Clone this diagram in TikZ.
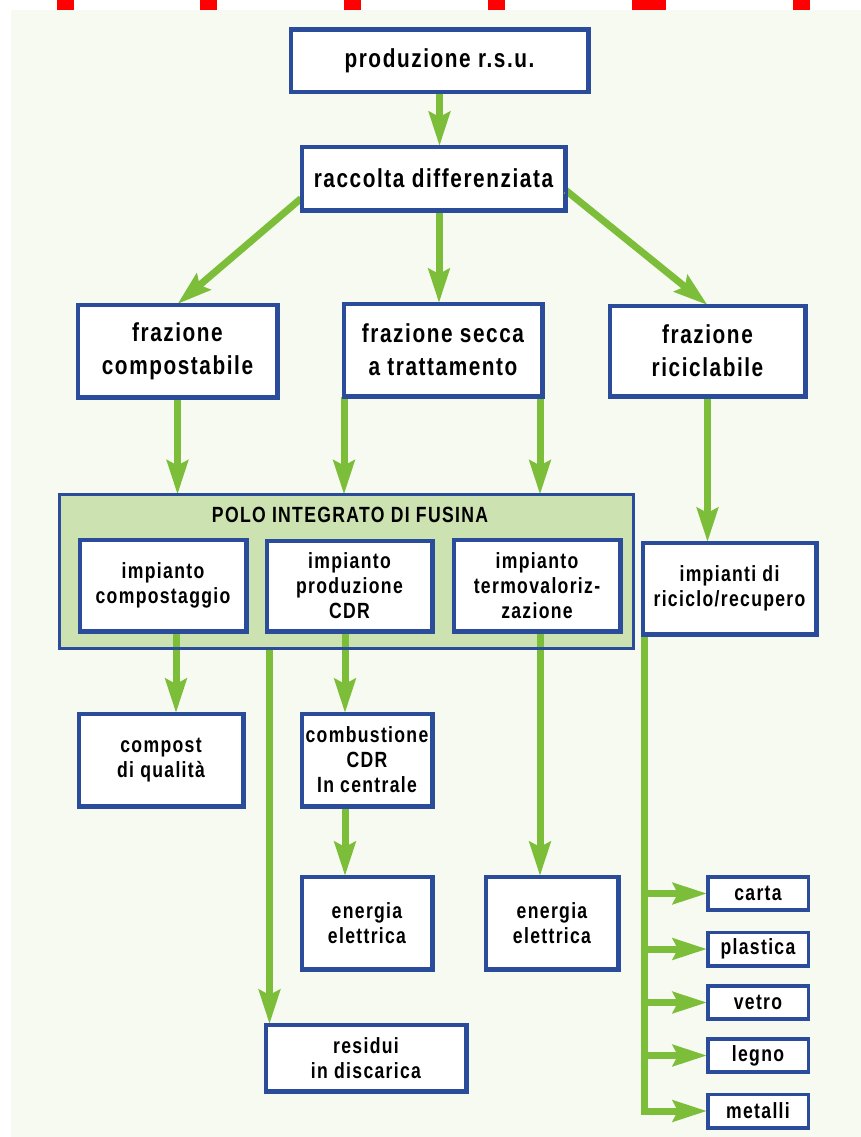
\documentclass[tikz,border=0pt]{standalone}
\usepackage{fontspec}
\setmainfont{Liberation Sans}[FakeStretch=0.8, LetterSpace=6]
\usetikzlibrary{arrows.meta,calc}
\definecolor{bblue}{RGB}{43,76,155}
\definecolor{agreen}{RGB}{124,189,58}
\definecolor{pgreen}{RGB}{204,226,176}
\definecolor{bgcol}{RGB}{247,250,240}
\definecolor{mred}{RGB}{255,0,0}
\begin{document}
\begin{tikzpicture}[x=1pt,y=-1pt,
  box/.style={draw=bblue, line width=3pt, fill=white, align=center, inner sep=0pt,
    font=\bfseries\fontsize{22}{25}\selectfont},
  bigbox/.style={box, font=\bfseries\fontsize{26}{33}\selectfont},
  smallbox/.style={box, line width=2.5pt, minimum width=99.5pt, minimum height=32pt},
  arr/.style={draw=agreen, line width=7pt, -{Stealth[length=34pt,width=21pt,inset=5pt]}},
  trunk/.style={draw=agreen, line width=7pt},
  title/.style={inner sep=0pt, font=\bfseries\fontsize{22}{25}\selectfont}]
\useasboundingbox (0,0) rectangle (861,1137);
\fill[white] (0,0) rectangle (861,1137);
\fill[bgcol] (11,10) rectangle (861,1137);
% red marks at the top edge
\foreach \a/\b in {57/74,200/217,344/361,488/505,632/666,793/810}
  \fill[mred] (\a,0) rectangle (\b,10);

% integrated pole (fill)
\node[fill=pgreen, draw=none, minimum width=573.5pt, minimum height=153.5pt, inner sep=0pt] (polo) at (346.5,571.5) {};

% upper boxes
\node[bigbox, minimum width=296pt, minimum height=61pt] (prod) at (439.5,61) {produzione r.s.u.};
\node[bigbox, minimum width=262pt, minimum height=62pt] (racc) at (433.5,178.5) {raccolta differenziata};
\node[bigbox, minimum width=198pt, minimum height=91pt] (fcomp) at (177.5,351) {frazione\\compostabile};
\node[bigbox, minimum width=197pt, minimum height=91pt] (fsecca) at (443,350) {frazione secca\\a trattamento};
\node[bigbox, minimum width=194pt, minimum height=89pt] (fric) at (707.5,351) {frazione\\riciclabile};

\coordinate (s0) at ([xshift=-4pt]fsecca.north);
\coordinate (s1) at ([xshift=1pt]fsecca.south west);
\coordinate (s2) at ([xshift=-3pt]fsecca.south east);

% connectors of the upper part
\draw[arr] (prod.south) -- (prod.south |- racc.north);
\draw[arr] ([yshift=-20pt]racc.west) -- (fcomp.north);
\draw[arr] (s0 |- racc.south) -- (s0);
\draw[arr] ([yshift=-12pt]racc.east) -- (fric.north);
\draw[arr] (fcomp.south) -- (fcomp.south |- polo.north);
\draw[arr] (s1) -- (s1 |- polo.north);
\draw[arr] (s2) -- (s2 |- polo.north);

% lower boxes
\node[box, minimum width=165pt, minimum height=90pt] (icomp) at (163,585.5) {impianto\\compostaggio};
\node[box, minimum width=164pt, minimum height=89pt] (icdr) at (349.5,586) {impianto\\produzione\\CDR};
\node[box, minimum width=165pt, minimum height=90pt] (itermo) at (537,585.5) {impianto\\termovaloriz-\\zazione};
\node[box, minimum width=172pt, minimum height=90pt] (iric) at (729.5,588.5) {impianti di\\riciclo/recupero};
\node[box, minimum width=163pt, minimum height=91pt] (compost) at (161,760) {compost\\di qualità};
\node[box, minimum width=129pt, minimum height=91pt] (comb) at (367,760) {combustione\\CDR\\In centrale};
\node[box, minimum width=129pt, minimum height=91pt] (en1) at (367,923) {energia\\elettrica};
\node[box, minimum width=131pt, minimum height=91pt] (en2) at (552,923) {energia\\elettrica};
\node[box, minimum width=199pt, minimum height=65pt] (resid) at (366,1058) {residui\\in discarica};
\node[smallbox] (carta) at (758,893.5) {carta};
\node[smallbox] (plastica) at (758,949) {plastica};
\node[smallbox] (vetro) at (758,1002.5) {vetro};
\node[smallbox] (legno) at (758,1055.5) {legno};
\node[smallbox] (metalli) at (758,1111) {metalli};

\coordinate (a1) at ([xshift=13pt]icomp.south);
\coordinate (r1) at ([xshift=4.5pt]resid.north west);
\coordinate (c1) at ([xshift=-4.5pt]icdr.south);
\coordinate (t1) at ([xshift=3pt]itermo.south);
\coordinate (k0) at ([xshift=2pt]iric.south west);

% connectors of the lower part
\draw[arr] (a1) -- (a1 |- compost.north);
\draw[arr] (r1 |- polo.south) -- (r1);
\draw[arr] (c1) -- (c1 |- comb.north);
\draw[arr] (c1 |- comb.south) -- (c1 |- en1.north);
\draw[arr] (t1) -- (t1 |- en2.north);
\draw[arr] (fric.south) -- (fric.south |- iric.north);
\draw[trunk] (k0) -- ($(k0 |- metalli.west)+(0,3.5)$);
\foreach \n in {carta,plastica,vetro,legno,metalli}
  \draw[arr] (k0 |- \n.west) -- (\n.west);

% pole border and box borders on top of the connector ends
\draw[draw=bblue, line width=3.5pt] (polo.north west) rectangle (polo.south east);
\node[title] (polotitle) at (350,515) {POLO INTEGRATO DI FUSINA};
\foreach \n in {icomp,icdr,itermo,iric,compost,comb,en1,en2,resid,prod,racc,fcomp,fsecca,fric}
  \draw[draw=bblue, line width=3pt] (\n.north west) rectangle (\n.south east);
\foreach \n in {carta,plastica,vetro,legno,metalli}
  \draw[draw=bblue, line width=2.5pt] (\n.north west) rectangle (\n.south east);
\end{tikzpicture}
\end{document}
